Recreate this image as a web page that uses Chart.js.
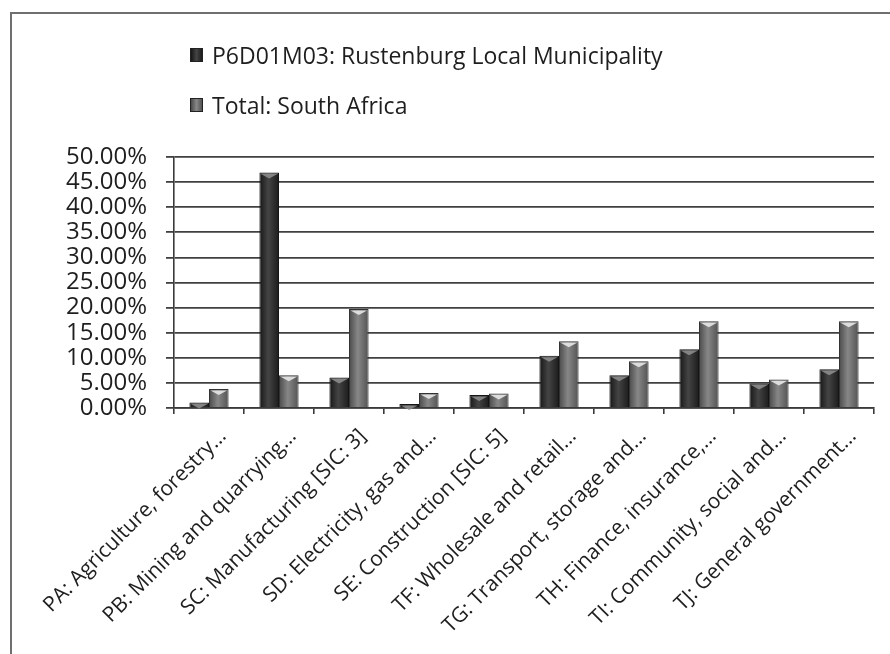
<!DOCTYPE html>
<html>
<head>
<meta charset="utf-8">
<script src="https://cdn.jsdelivr.net/npm/chart.js@4"></script>
<style>
    html, body { margin: 0; padding: 0; background: #fff; overflow: hidden; }
    #wrap { position: relative; width: 890px; height: 654px; }
    #frame {
        position: absolute; left: 10px; top: 12px; width: 900px; height: 700px;
        border-top: 2px solid #6f6f6f; border-left: 2px solid #6f6f6f;
        pointer-events: none;
    }
    #legend {
        position: absolute; left: 190px; top: 38px;
        font-family: "Open Sans", sans-serif; font-size: 23px; color: #1e1e1e;
    }
    .legend-item { display: flex; align-items: center; height: 34px; margin-bottom: 16px; }
    .legend-box { width: 13px; height: 14px; margin-right: 9px; border: 1px solid #222; box-sizing: border-box; }
</style>
</head>
<body>
<div id="wrap">
    <canvas id="chart" width="890" height="654"></canvas>
    <div id="legend"></div>
    <div id="frame"></div>
</div>
<script>
    const categories = [
        'PA: Agriculture, forestry...',
        'PB: Mining and quarrying...',
        'SC: Manufacturing [SIC: 3]',
        'SD: Electricity, gas and...',
        'SE: Construction [SIC: 5]',
        'TF: Wholesale and retail...',
        'TG: Transport, storage and...',
        'TH: Finance, insurance,...',
        'TI: Community, social and...',
        'TJ: General government...'
    ];
    const seriesNames = ['P6D01M03: Rustenburg Local Municipality', 'Total: South Africa'];
    const rustenburg = [1.1, 46.9, 6.1, 0.8, 2.6, 10.4, 6.5, 11.7, 4.9, 7.7];
    const southAfrica = [3.8, 6.5, 19.7, 3.0, 2.9, 13.3, 9.3, 17.3, 5.7, 17.3];

    // cylinder-ish shading stops per series: [edge, middle, edge]
    const shades = [
        ['#161616', '#444444', '#1c1c1c'],
        ['#4a4a4a', '#878787', '#525252']
    ];
    const capColors = ['rgba(140,140,140,0.9)', 'rgba(225,225,225,0.95)'];

    const CAT_PCT = 0.56;

    function barFill(context) {
        const chart = context.chart;
        const xScale = chart.scales.x;
        const ds = context.datasetIndex;
        if (!xScale || context.dataIndex === undefined) return shades[ds][1];
        const step = xScale.width / categories.length;
        const barW = step * CAT_PCT / 2;
        const center = xScale.getPixelForValue(context.dataIndex);
        const left = center - barW + ds * barW;
        if (!isFinite(left) || !isFinite(barW) || barW <= 0) return shades[ds][1];
        const g = chart.ctx.createLinearGradient(left, 0, left + barW, 0);
        g.addColorStop(0, shades[ds][0]);
        g.addColorStop(0.45, shades[ds][1]);
        g.addColorStop(1, shades[ds][2]);
        return g;
    }

    // small light wedge at the top of each bar, like a cylinder cap
    const capPlugin = {
        id: 'caps',
        afterDatasetsDraw(chart) {
            const ctx = chart.ctx;
            chart.data.datasets.forEach((d, i) => {
                chart.getDatasetMeta(i).data.forEach(bar => {
                    const w = bar.width;
                    ctx.save();
                    ctx.fillStyle = capColors[i];
                    ctx.beginPath();
                    ctx.moveTo(bar.x - w * 0.42, bar.y + 1.5);
                    ctx.lineTo(bar.x + w * 0.42, bar.y + 1.5);
                    ctx.lineTo(bar.x, bar.y + 6);
                    ctx.closePath();
                    ctx.fill();
                    ctx.restore();
                });
            });
        }
    };

    const chart = new Chart(document.getElementById('chart'), {
        type: 'bar',
        data: {
            labels: categories,
            datasets: [
                { label: seriesNames[0], data: rustenburg, backgroundColor: barFill, borderColor: '#151515', borderWidth: 1 },
                { label: seriesNames[1], data: southAfrica, backgroundColor: barFill, borderColor: '#333333', borderWidth: 1 }
            ]
        },
        options: {
            responsive: false,
            animation: false,
            events: [],
            layout: { padding: { top: 157, right: 16, left: 0, bottom: 0 } },
            datasets: { bar: { categoryPercentage: CAT_PCT, barPercentage: 1 } },
            plugins: { legend: { display: false }, tooltip: { enabled: false } },
            scales: {
                x: {
                    afterFit: (scale) => { scale.height = 246; },
                    grid: { offset: true, drawOnChartArea: false, color: '#3a3a3a', lineWidth: 1.6, tickLength: 6 },
                    border: { color: '#3a3a3a', width: 1.6 },
                    ticks: {
                        autoSkip: false, minRotation: 45, maxRotation: 45,
                        labelOffset: 14, padding: 10,
                        color: '#1e1e1e',
                        font: { family: '"Open Sans", sans-serif', size: 21 }
                    }
                },
                y: {
                    min: 0, max: 50,
                    afterFit: (scale) => { scale.width = 174; },
                    grid: { color: '#404040', lineWidth: 1.8, tickLength: 8 },
                    border: { color: '#3a3a3a', width: 1.6 },
                    ticks: {
                        stepSize: 5, padding: 19, autoSkip: false,
                        color: '#1e1e1e',
                        font: { family: '"Open Sans", sans-serif', size: 24, lineHeight: 1 },
                        callback: (v) => v.toFixed(2) + '%'
                    }
                }
            }
        },
        plugins: [capPlugin]
    });

    // legend stacked vertically above the plot
    const legend = document.getElementById('legend');
    seriesNames.forEach((name, i) => {
        const item = document.createElement('div');
        item.className = 'legend-item';
        const box = document.createElement('span');
        box.className = 'legend-box';
        box.style.background = `linear-gradient(90deg, ${shades[i][0]}, ${shades[i][1]}, ${shades[i][2]})`;
        const text = document.createElement('span');
        text.textContent = name;
        item.appendChild(box);
        item.appendChild(text);
        legend.appendChild(item);
    });
</script>
</body>
</html>
